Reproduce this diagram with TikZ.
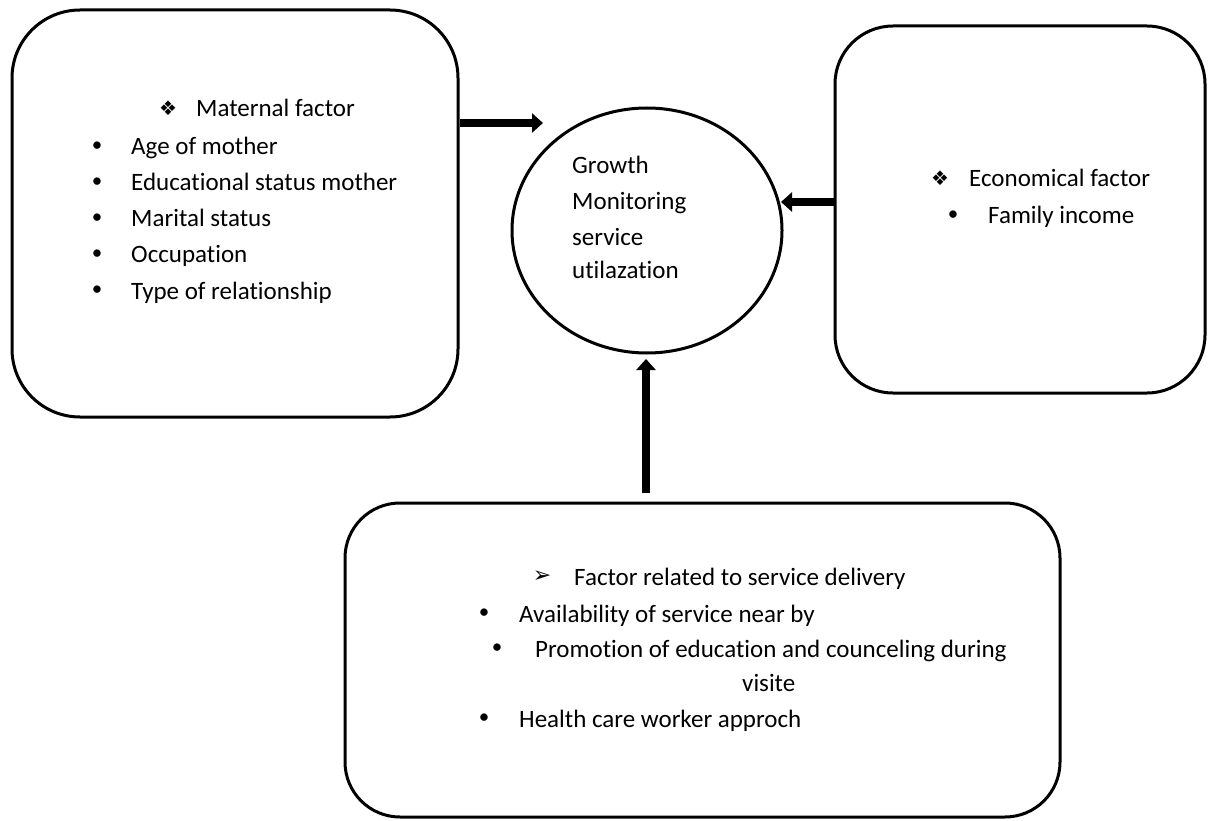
\documentclass[tikz,border=0pt]{standalone}
\usepackage{fontspec}
\setmainfont{Carlito}[RawFeature=-liga]
\newfontfamily\symfont{DejaVu Sans}
\usetikzlibrary{shapes.geometric,arrows.meta}
\begin{document}
\begin{tikzpicture}[x=1pt,y=-1pt,
  box/.style={draw,line width=3pt,inner sep=0pt},
  circ/.style={draw,ellipse,line width=3pt,inner sep=0pt},
  txt/.style={anchor=base west,inner sep=0pt,font=\fontsize{25}{30}\selectfont},
  bul/.style={inner sep=0pt,font=\fontsize{21}{25}\selectfont},
  sym/.style={inner sep=0pt,font=\symfont\fontsize{20}{24}\selectfont},
  arr/.style={line width=8pt,-{Triangle[length=11pt,width=19pt]}}]
\fill[white] (0,0) rectangle (1208,821);
\useasboundingbox (0,0) rectangle (1208,821);

% boxes
\node[box,rounded corners=68pt,minimum width=446pt,minimum height=407pt] (lbox) at (235,213.5) {};
\node[box,rounded corners=58pt,minimum width=370pt,minimum height=367pt] (rbox) at (1020,209.5) {};
\node[box,rounded corners=55pt,minimum width=715pt,minimum height=314pt] (bbox) at (702.5,660) {};
\node[circ,minimum width=270pt,minimum height=245pt] (circ) at (647,230.5) {};

% circle text
\node[txt] (g1) at (572,174) {Growth};
\node[txt] (g2) at (572,210) {Monitoring};
\node[txt] (g3) at (572,246) {service};
\node[txt] (g4) at (572,279) {utilazation};

% left box text
\node[sym] (ls) at (168,108) {❖};
\node[txt] (lt) at (196,117) {Maternal factor};
\node[bul] (lb1) at (97,147) {•};
\node[txt] (l1) at (131,155) {Age of mother};
\node[bul] (lb2) at (97,183) {•};
\node[txt] (l2) at (131,191) {Educational status mother};
\node[bul] (lb3) at (97,219) {•};
\node[txt] (l3) at (131,227) {Marital status};
\node[bul] (lb4) at (97,255) {•};
\node[txt] (l4) at (131,263) {Occupation};
\node[bul] (lb5) at (97,291) {•};
\node[txt] (l5) at (131,299) {Type of relationship};

% right box text
\node[sym] (rs) at (940,178) {❖};
\node[txt] (rt) at (969,187) {Economical factor};
\node[bul] (rb1) at (953,216) {•};
\node[txt] (r1) at (988,224) {Family income};

% bottom box text
\node[sym,font=\symfont\fontsize{22}{26}\selectfont] (bs) at (542,577) {➢};
\node[txt] (bt) at (574,585) {Factor related to service delivery};
\node[bul] (bb1) at (484,614) {•};
\node[txt] (b1) at (519,622) {Availability of service near by};
\node[bul] (bb2) at (497,649) {•};
\node[txt] (b2) at (535,657) {Promotion of education and counceling during};
\node[txt] (b2b) at (742,691) {visite};
\node[bul] (bb3) at (484,719) {•};
\node[txt] (b3) at (519,727) {Health care worker approch};

% arrows
\coordinate (tipL) at (543,123);
\coordinate (tipR) at (781,202);
\coordinate (tipB) at (646,359);
\coordinate (startB) at (646,493);
\draw[arr] (lbox.east |- tipL) -- (tipL);
\draw[arr] (rbox.west |- tipR) -- (tipR);
\draw[arr] (startB) -- (tipB);
\end{tikzpicture}
\end{document}
